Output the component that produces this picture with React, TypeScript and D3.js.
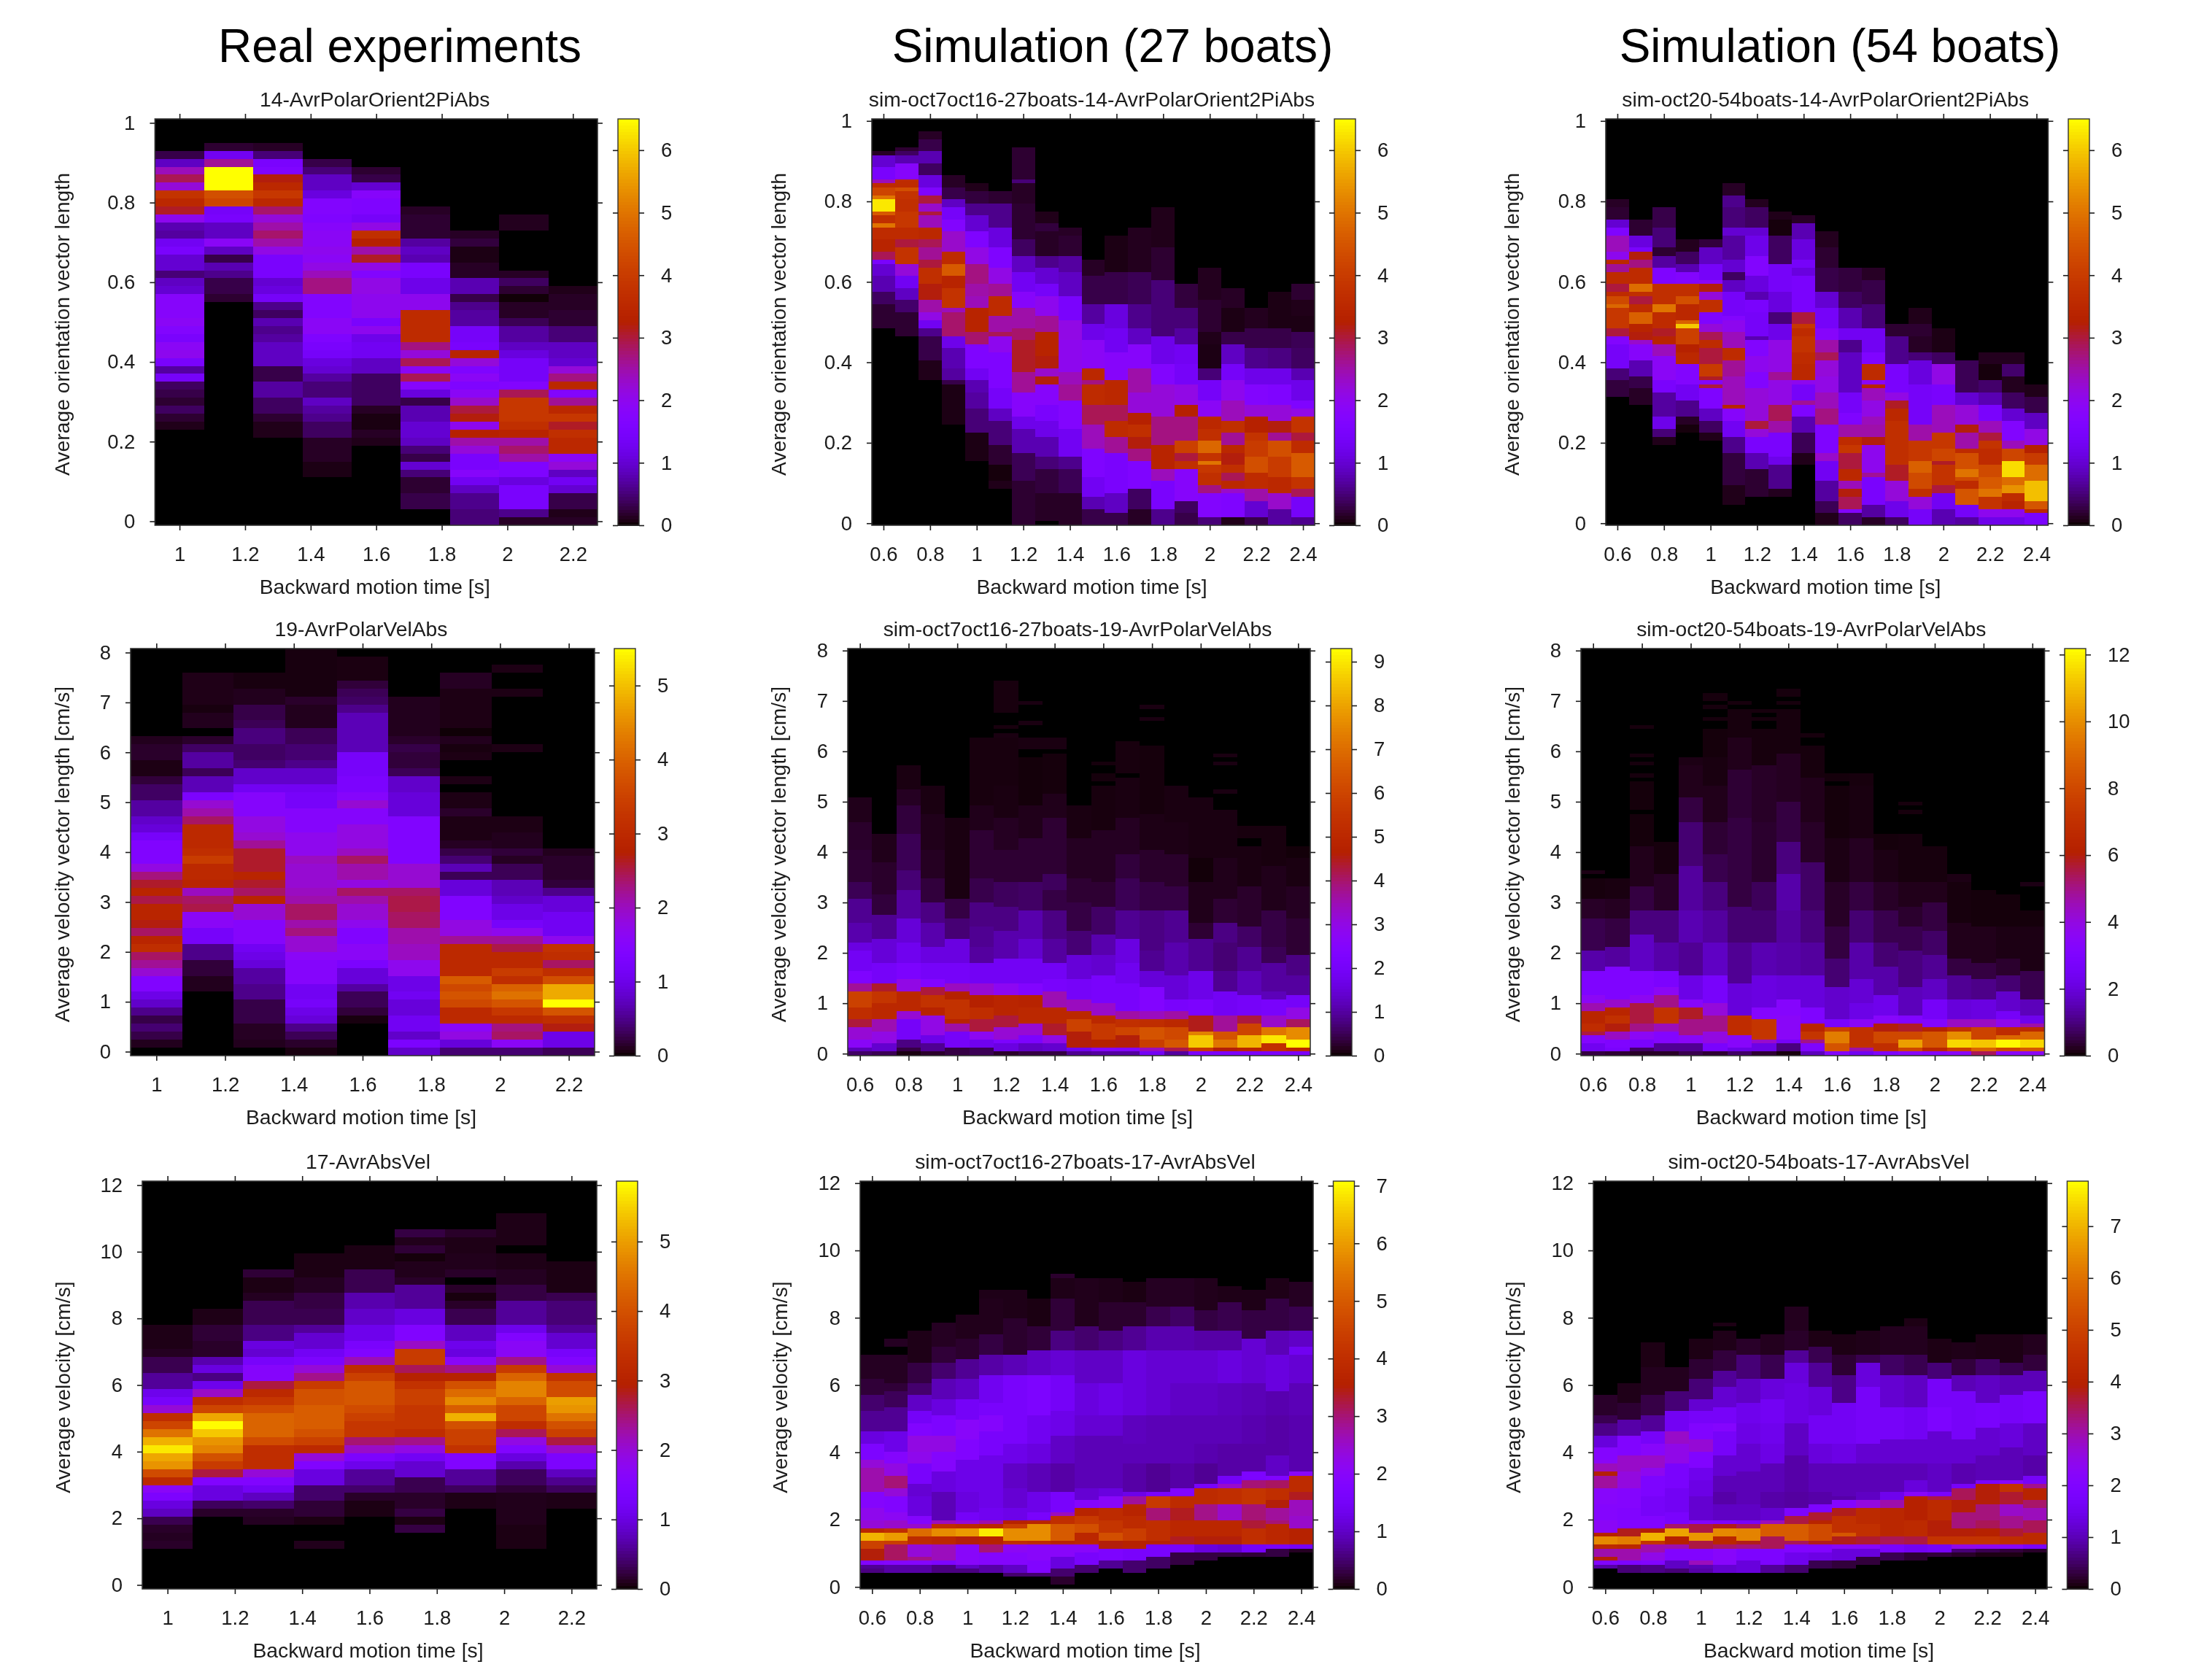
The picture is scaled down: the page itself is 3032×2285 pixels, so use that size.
import { useEffect, useRef } from 'react'
import * as d3 from 'd3'

// every column is a list of (first row, value) stops, row 0 is the top of the plot
const orientReal = [
  [4,.3,5,.9,6,2.4,7,2.9,8,2.2,9,3.8,10,3.5,11,3.1,12,2,13,.8,14,.7,15,1.3,16,1.5,17,1,19,.5,20,.9,21,1,22,1.8,25,1.9,26,1.7,27,1.5,28,1.9,29,2,30,1.5,31,.7,32,1.4,33,.4,34,.3,35,.2,36,.4,37,.2,38,.1,39,0],
  [3,.2,4,1.3,5,2.6,6,6.5,9,4.4,10,4.2,11,1.4,12,1.5,13,.9,15,1.9,16,.9,17,.3,18,.8,19,.6,20,.3,22,.2,23,0],
  [3,.15,4,.5,5,1.5,6,1.6,7,3.2,8,3.5,9,3.9,10,3.5,11,2.8,12,2.2,13,2.5,14,2.8,15,2.5,16,2.1,17,1.5,20,1,21,1.1,22,1.4,23,.6,24,.4,25,.8,26,.6,27,.7,28,.9,31,.3,33,.7,35,.4,37,.2,38,.1,40,0],
  [5,.3,6,.5,7,.9,9,1.1,10,1.7,12,1.6,13,1.8,14,1.9,16,2,17,1.9,18,2.1,19,2.4,20,2.7,22,1.7,25,1.9,27,1.6,28,1.5,29,1.4,30,1.1,31,1,32,.7,33,.5,35,.9,36,.7,37,.6,38,.4,40,.15,43,.08,45,0],
  [6,.2,7,.3,8,1,9,1.8,10,1.6,12,1.4,13,2.1,14,3.7,15,3.3,16,2.5,17,3.1,18,2.1,19,1.7,20,2.1,22,2,25,1.5,26,2,27,1.2,28,1.3,30,.9,32,.4,36,.15,37,.07,39,.15,40,.1,41,0],
  [11,.15,12,.2,15,.7,16,.9,17,.8,18,1.5,20,1.2,22,2,24,3.6,28,2.7,29,2.2,30,2.9,31,1.9,32,2.9,33,1.8,34,1.1,35,.3,36,.8,38,1,40,.9,41,.5,42,.3,43,1,44,.5,45,.2,47,.3,49,0],
  [14,.15,15,.25,16,.08,18,.15,20,.8,22,.3,23,.6,24,.7,26,1.4,28,1.5,29,3.4,30,2.2,31,1.6,32,1.9,33,1.6,34,1.9,35,2.3,36,3,37,3.2,38,2,39,3.3,40,2.5,41,2.2,42,1.5,44,1.8,45,1.3,46,.9,47,.6,49,.5],
  [12,.12,14,0,19,.15,20,.4,21,.2,22,.03,23,.15,25,.35,26,.7,28,.9,29,1.1,30,1.4,33,1.7,34,2.9,35,3.9,38,3.7,39,3.4,40,2.5,41,2.8,42,2.5,43,1.6,45,1.1,46,1.5,49,.6,50,.15],
  [21,.1,22,.15,24,.2,26,.5,28,.9,30,1,31,2.2,32,2.7,33,3.5,34,1.7,35,2.6,36,3.5,37,3.9,38,3.1,39,3.7,40,3.5,42,1.9,43,2.2,44,.9,45,1.3,46,1,47,.3,49,.1,50,.15],
]

const orientSim27 = [
  [8,.15,9,1,12,1.5,15,2.4,16,3.6,17,4.2,19,5,20,6.3,23,4.6,24,3.7,26,5,27,3.6,30,3.4,33,2.9,35,1.5,36,1,39,.8,43,.4,46,.2,52,0],
  [7,.2,8,.4,9,.8,11,1.8,15,3.6,17,4.4,18,3.8,20,3.7,23,3.9,27,3.6,30,3,32,3.8,36,2.2,39,1.3,42,.9,45,.45,48,.2,54,0],
  [3,.15,5,.3,8,.8,11,.4,14,1.1,17,1.6,19,3,21,2.3,23,3,24,2.4,27,3.5,30,2.9,32,2.6,35,3,37,3.7,41,3.2,45,2.5,48,2.1,50,1.3,52,.6,54,.3,60,.1,65,0],
  [14,.15,17,.3,20,.9,22,1.4,25,1.7,28,2.3,33,3.6,36,4.6,39,3.4,42,3.8,47,2.4,48,2.8,54,1.2,57,.8,62,.7,65,.3,66,.08,76,0],
  [16,.1,18,.25,21,.6,24,1,28,1.6,32,2.1,36,2.7,41,2.5,44,2.4,47,3.4,53,2.8,56,1.6,62,1.3,65,.8,68,.7,72,.5,78,.08,85,0],
  [18,.2,21,.6,27,1.1,32,1.6,37,2.1,41,2.6,44,3.6,49,2.5,53,2.9,54,2,58,1.6,67,1.4,72,.9,75,.5,81,.2,86,.05,90,.1,92,0],
  [7,.2,15,.5,16,.15,21,.2,30,.4,34,.9,38,1.3,43,1.8,47,2.5,52,2.8,55,3.1,63,2.6,68,1.8,74,1.2,77,.8,83,.35,90,.2],
  [23,.1,26,.25,28,.15,34,.6,37,1,41,1.4,44,2,49,2.6,53,3.4,59,3.2,62,2.3,64,3.2,66,1.8,71,1.5,75,1.2,79,.8,84,.5,87,.25,93,.15,100,0],
  [27,.15,29,.2,34,.7,38,.9,44,1.5,50,2.1,55,2,63,2.4,66,2.6,70,1.7,77,1.3,84,.6,87,.35,93,.15],
  [35,.15,39,.3,46,.7,51,1.2,55,1.9,62,3.5,65,2.7,66,3.6,71,2.9,76,2.4,82,1.6,89,1.3,94,.8,97,.3],
  [29,.08,38,.3,46,1.1,52,1.3,58,1.8,65,3.5,71,2.9,75,3.6,79,2.6,83,1.5,93,.9,98,.3],
  [27,.12,38,.35,46,.6,52,.9,56,1.8,62,2.5,68,2.2,73,3.3,76,3.7,79,3.2,82,2.7,85,1.6,92,.4,97,.15],
  [22,.1,32,.2,40,.5,54,1.2,61,1.7,66,2.2,74,2.7,81,3.4,87,2.4,90,1.5,97,.6],
  [41,.25,47,.5,52,.7,56,1.3,61,1.4,66,2.1,71,3.3,74,2.7,80,4.1,83,3,85,3.7,87,1.8,95,.4,98,.3],
  [37,.12,45,.2,53,.1,56,.08,62,.5,65,1.4,70,1.9,74,3.5,77,3.7,80,4.8,83,3.8,85,5,86,3.9,88,3.7,91,2.7,93,1.7,99,.5],
  [42,.15,47,.08,53,.3,56,.9,61,1.4,65,2,70,2.4,75,3.7,78,2.6,81,3.5,83,3.2,86,3.7,88,2.9,90,3.5,92,2.3,93,1.6,99,.1],
  [47,.12,52,.3,57,.6,62,1.2,66,1.7,71,2.2,74,3.3,78,3.8,80,4,84,4.4,88,3.6,92,2.5,95,1,99,.3],
  [43,.08,52,.3,57,.55,62,1.2,66,1.6,71,2.2,75,3.2,78,2.6,80,4.4,84,4,89,3.5,93,2.3,97,.7],
  [41,.2,45,.1,49,.08,53,.35,57,.4,62,.8,65,1.2,70,1.6,72,2.1,74,3.8,78,3,80,3.6,83,4.6,89,3.8,92,2.9,94,1.4,99,.6],
]

const orientSim54 = [
  [20,.15,22,.2,25,1,27,1.6,29,2.4,33,2,35,3.5,36,2.6,38,3.6,41,3,43,3.6,44,4.3,46,4.8,47,3.9,52,3,54,1.7,56,1.4,62,.5,65,.25,69,0],
  [25,.2,29,1.1,32,1.5,33,3.2,35,2.7,37,3.6,41,4.9,43,3.7,44,3,46,3.6,48,4.7,51,3.4,53,3.2,55,2.3,56,1.8,60,.8,64,.3,67,.15,71,0],
  [22,.3,27,.5,32,.2,34,.7,37,1.6,41,3.7,46,5,48,3.6,52,3.1,54,3.4,56,2.4,59,1.9,65,1.5,68,.7,74,1.2,77,.5,79,.1,81,0],
  [30,.12,33,.4,36,.8,38,1.7,41,3.7,44,4.4,46,3.5,50,4.7,51,6,52,4.1,56,3.3,58,3.5,61,1.7,66,1.3,70,.6,74,.15,76,.05,78,0],
  [30,.25,32,.9,36,1.4,40,1.9,41,3.2,43,2.2,45,3.7,48,1.6,51,2.2,53,2.9,55,3.6,57,3,61,4,64,3.1,65,1.7,66,3,67,1.6,72,.9,75,.4,78,.1,80,0],
  [16,.15,19,.6,22,.5,27,1,29,.7,35,1,38,.4,40,.9,43,1.4,49,1.7,50,2,53,2.4,57,3.6,60,2.6,64,2.4,71,3.4,72,1.8,75,1.3,79,.6,83,.25,91,.1,96,0],
  [20,.12,22,.4,27,1,29,1.2,34,1.7,39,1.1,43,.8,45,1.5,48,1.4,54,.8,55,1.7,59,2,63,1.7,67,2.2,75,3,77,2.2,79,1.5,83,.8,87,.2,94,0],
  [23,.1,25,.05,29,.4,36,1.4,43,1.1,48,.5,51,1.2,55,2.1,63,2.6,65,2.1,71,2.9,75,2.5,78,1.5,84,1.2,86,.6,92,.12,94,0],
  [24,.15,26,.8,30,1.1,35,1.4,37,1.1,39,1.5,48,3,51,3.9,52,3.6,54,3.8,58,3.6,61,3.5,65,2,66,1.4,70,2.6,71,1.6,74,.8,78,.35,83,.1,86,0],
  [28,.12,32,.2,37,.3,43,1,47,1.4,52,1.8,55,2.5,58,2.9,60,2.2,64,2.1,68,2.4,72,2.7,76,1.6,83,2.3,85,1.3,90,.7,95,.35,98,.1],
  [37,.25,43,.4,47,.8,52,1.3,55,.6,58,.9,68,1.4,73,1.6,76,2.5,79,3.6,81,3.9,83,3,87,3.5,90,2.4,92,3.2,94,2.9,97,1.7,98,.4],
  [37,.15,40,.3,46,.5,52,1.3,58,1.6,61,3.6,65,1.9,66,3.4,67,2.4,70,2.1,74,2.4,76,2.5,79,3.2,81,2,88,2.6,89,1.5,96,.7,99,.15],
  [51,.2,54,.6,61,1.5,68,2.1,70,3.1,72,3.5,75,3.7,86,3.1,90,2.2,95,1.2,99,.4],
  [47,.1,51,.2,54,.15,58,.5,60,1.1,66,1.4,76,2.5,80,3.9,85,4.7,88,4.3,92,3.7,94,2.2,97,1.4],
  [52,.08,58,.4,61,2.1,66,1.5,71,2.4,78,3.9,82,4.2,85,3.1,86,3.8,91,3,93,1.3,97,.8],
  [60,.35,68,1,71,2.2,76,3.2,78,2.5,82,3.6,83,4.4,87,5,89,4.3,90,3.6,92,4.5,96,1.4,99,.7],
  [58,.12,61,.05,65,.45,68,.8,71,1.5,75,2.4,78,3,80,3.8,82,3.6,86,4.3,89,4.6,92,5,94,3.8,97,2,99,1.2],
  [58,.12,61,.45,64,.12,68,.4,72,1,75,1.7,80,2.4,82,4.2,85,6.2,89,4.9,91,5.4,93,3.6,95,3.4,97,2,99,1.2],
  [66,.1,69,.3,73,.9,77,2.1,81,3.3,83,4,86,4.9,90,5.9,95,4.5,97,3.5,98,1.5],
]

const polarReal = [
  [11,.1,12,.15,14,.07,16,.2,17,.35,19,.6,21,.8,22,.9,23,1.2,24,1.4,27,1.8,28,2.3,29,2.6,30,2.9,31,2.5,32,2.9,34,2.7,35,2.4,36,2.9,37,3.1,38,2.4,39,2.2,40,1.9,41,1.4,43,1,44,.8,45,.5,46,.25,47,.4,48,.25,49,.1,50,0],
  [3,.08,7,.05,8,.1,10,0,11,.15,12,.35,13,.6,15,.3,16,.7,18,1.3,19,1.9,20,2.1,21,2.4,22,3,25,3.1,26,3.4,27,3,29,2.9,30,2,31,2.4,32,2.5,33,1.6,35,1.2,37,.5,39,.2,41,.1,43,0],
  [3,.05,5,.1,7,.25,9,.3,10,.45,12,.35,14,.4,15,.8,17,1.1,18,1.5,21,1.8,23,1.9,24,2.2,25,2.6,28,2.9,29,2.6,30,2.4,31,2.9,32,1.9,34,1.5,37,1.1,38,1,39,.9,40,.6,42,.5,44,.25,47,.12,49,.1,50,0],
  [0,.05,6,.15,7,.1,10,.3,12,.4,14,.5,15,.8,17,1.1,18,1.2,20,1.5,23,1.7,26,2,27,1.9,30,2,31,2.1,32,2.4,34,2.1,35,2.3,36,1.9,38,1.6,39,1.5,42,1.1,44,1.2,45,1,46,.9,47,.5,48,.3,49,.15,50,.05],
  [1,.06,4,.2,5,.3,6,.35,7,.5,8,.7,13,1.2,16,1.3,18,1.5,19,1.9,20,1.5,22,1.8,25,2,26,2.4,27,2.1,29,1.8,30,2.4,31,2.1,32,1.9,34,1.7,35,1.4,37,1.6,39,1.3,40,.9,42,.6,43,.3,45,.2,46,.05,47,0],
  [6,.1,11,.15,12,.25,13,.2,15,.3,16,.8,18,.9,21,1.4,27,1.9,30,2.4,31,2.5,33,2.4,35,2.1,37,2,39,1.7,41,1,43,1.1,44,.9,46,1.1,48,.8,49,1.3,50,.8],
  [3,.12,5,.07,10,.02,11,.1,12,.05,13,.07,14,0,16,.07,17,0,18,.07,20,.15,21,.07,24,.12,25,.25,26,.4,27,.7,28,.3,29,.9,31,1.4,34,1.8,36,2.2,37,3,41,3.9,42,3.6,43,3.8,44,3.6,45,3,47,1.6,48,1.8,49,.9,50,.4],
  [2,.07,3,0,5,.07,6,0,12,.07,13,0,21,.07,23,.1,25,.2,26,.12,27,.3,29,.7,31,.8,32,1,34,1.2,35,1.7,36,2.2,37,2.5,38,3,40,3.4,41,3.1,42,4,43,4.2,44,3.8,45,3.3,46,3,47,2.3,48,2.4,49,1.6,50,.4],
  [25,.1,26,.15,29,.2,30,.5,31,.9,33,1.1,36,1.7,37,3.2,38,3.1,39,2.4,40,3.1,41,3.7,42,4.8,44,5.5,45,3.8,46,3.1,47,2.7,48,1,50,.3],
]

const polarSim27 = [
  [37,.15,43,.25,50,.3,58,.5,62,.9,68,1.1,73,1.6,75,1.9,80,2.3,83,3.7,85,5.9,89,5.2,92,4.3,94,3.2,97,2.7,99,1.2,100,.6],
  [46,.15,53,.25,61,.35,66,.9,72,1.5,78,2,83,4.4,85,5.5,88,5,92,3.5,95,3,98,1.4,100,.5],
  [29,.1,35,.2,39,.35,46,.5,55,.7,60,1,67,1.5,73,1.8,78,2.2,82,3,85,5,90,3.2,92,2,97,.8,99,.4,100,.1],
  [34,.1,41,.15,50,.2,57,.35,63,.8,68,1.1,74,1.6,78,2,82,2.4,84,4.3,86,5.4,89,4.8,91,3,96,1.7,98,.9,100,.25],
  [42,.1,62,.4,67,.7,72,1.6,78,2,83,3.4,85,4.7,87,5.4,92,4.8,93,3.6,95,2,99,.4],
  [22,.08,39,.15,45,.3,57,.45,63,.8,69,.9,74,1,78,1.9,83,3.2,86,4.7,89,5.2,92,4.3,95,2.8,97,1.8,99,.5],
  [8,.08,16,0,19,.08,20,0,21,.1,22,.08,34,.1,42,.2,50,.3,58,.55,64,.8,70,1.1,77,1.9,83,2.8,86,4.9,91,4.3,94,3.2,97,2.2,98,1.6,100,.25],
  [13,.1,14,0,18,.1,19,0,22,.1,25,0,27,.06,39,.15,47,.3,58,.6,65,1.1,72,1.4,77,1.9,83,2.4,86,4.8,89,5,93,3.2,96,2.2,98,1.3,100,.4],
  [22,.1,25,0,26,.07,36,.15,42,.3,56,.55,60,.4,65,.8,72,1,78,1.9,82,2.1,85,3.5,89,5,93,4.4,96,3,98,1.4,100,.4],
  [39,.1,47,.2,57,.3,63,.4,70,.7,76,1.5,82,2,87,3.4,90,5,92,5.9,95,4.6,99,1.8,100,.9],
  [28,.07,29,0,31,.07,33,0,34,.08,45,.2,58,.3,64,.6,71,1.1,76,1.4,81,2.1,88,3.3,91,5,93,5.6,97,4.7,99,2.5,100,1],
  [23,.08,31,0,32,.1,42,.2,51,.35,57,.5,65,.9,72,1.6,78,1.8,83,2.1,90,3.6,92,5.3,94,6,96,4.6,99,2.4,100,1],
  [14,.1,15,0,17,.1,18,0,24,.07,41,.12,50,.25,58,.4,65,.8,75,.9,80,1.5,84,2.4,90,3.4,92,5.2,94,6.4,97,5.8,99,3.4,100,1.9],
  [34,.1,43,.12,51,.25,59,.4,65,.9,73,1.1,81,1.5,87,2.1,90,3.6,92,5,94,6.1,97,6.5,99,4.2,100,1],
  [37,.1,52,.05,58,.15,68,.3,72,.9,80,1.7,87,2.2,91,4.5,95,7.4,96,8.6,99,5.6,100,2.2],
  [26,.1,27,0,28,.1,29,0,35,.1,36,0,40,.1,52,.15,62,.3,68,.8,73,.7,80,.9,85,1.9,91,3.7,95,6.4,97,7.2,99,4.6,100,2.2],
  [44,.08,47,0,49,.1,59,.25,69,.6,74,.9,80,1.2,86,2,91,4.3,93,6,96,8.3,99,4.9,100,2.2],
  [44,.08,54,.15,65,.4,74,.5,78,1,85,1.2,87,2.1,91,3.3,94,7.2,96,9,98,5.3,100,2.2],
  [49,.05,52,.1,59,.2,67,.3,76,.8,81,1,86,2,89,3,92,4.1,94,7.6,97,9.3,99,5,100,2.2],
]

const polarSim54 = [
  [55,.15,56,0,57,.1,62,.3,67,.6,75,1.4,80,3,86,3.6,88,4.6,90,6.4,93,6.8,95,5.6,96,3.2,98,2.4,100,.5],
  [57,.12,62,.25,67,.5,74,1.3,79,3,87,4.3,89,6.4,91,7,93,6,95,4.4,97,3,99,2.8,100,.4],
  [19,.1,20,0,26,.1,27,0,28,.1,29,0,31,.1,32,0,33,.08,40,0,41,.08,49,.2,59,.5,65,1,71,1.7,80,3.1,86,3.7,88,5.6,93,5,95,3.6,97,2.8,99,.8,100,.3],
  [48,.1,56,.3,65,1,73,1.4,80,2.9,84,3.6,86,5,89,7.1,93,4.5,95,3.2,98,1.2,100,.3],
  [27,.15,29,.2,37,.5,43,.9,54,1.3,65,1.5,73,1.2,81,2.2,87,3.4,89,5.8,92,5,96,3.5,98,1.2,100,.6],
  [11,.1,13,0,14,.1,15,0,17,.1,18,0,20,.08,27,.12,34,.2,43,.4,51,.6,58,1,65,1.3,73,1.7,81,2.7,88,4.1,91,5,95,4,98,2.8,100,.4],
  [13,.1,14,0,15,.1,22,.2,30,.4,42,.5,64,.9,73,1.2,83,2,91,6.8,96,3.4,99,2.2,100,.8],
  [15,.1,16,0,17,.1,18,0,20,.1,29,.3,43,.35,58,.7,65,.9,73,1.5,81,2.1,89,3.3,92,7.2,97,4.3,98,2.2,100,.4],
  [10,.1,12,0,13,.1,14,0,15,.1,26,.25,38,.5,48,1,56,1.4,65,1.3,73,1.4,81,2,87,3.3,91,3.5,97,2.6,98,1,100,.1],
  [21,.1,22,0,24,.1,32,.2,43,.3,53,.8,65,1,73,1.3,81,2,89,3,93,6.4,95,7.2,97,5,98,3,100,1.6],
  [31,.08,33,0,34,.08,47,.15,58,.3,69,.5,77,.9,84,1.8,92,2.8,94,7.6,95,9.6,98,8.4,100,3.2],
  [31,.1,34,.12,47,.25,58,.5,65,.9,73,1.4,82,1.9,88,2.2,92,3.5,94,7,99,4.7,100,2.4],
  [46,.08,50,.15,58,.3,65,.6,73,.9,79,1.4,86,2.3,91,3.4,93,6,95,8,98,6.9,100,3],
  [38,.1,39,0,40,.1,41,0,46,.1,58,.2,64,.35,69,.6,75,1,84,1.6,91,3.1,93,5.8,95,8,97,10.4,99,7.9,100,3.4],
  [49,.1,58,.2,63,.5,70,.8,76,1.2,82,1.7,87,2.6,92,3.2,94,6.2,95,8.5,99,6.5,100,3.2],
  [56,.15,58,.1,68,.2,77,.5,81,1.2,87,2,92,4.4,94,7,95,10,97,11.5,99,7.6,100,3.5],
  [60,.08,69,.2,78,.5,82,1.1,87,2.1,92,4.4,94,7.8,97,11.2,99,8.9,100,5.4],
  [61,.08,69,.15,77,.35,81,.9,85,1.8,90,2.6,92,3.8,94,6.8,96,9,97,12.1,99,7.9,100,3.5],
  [58,.15,59,0,65,.08,69,.15,80,.6,87,1.6,91,2.3,93,4.7,94,6.6,95,9,97,11.5,99,8.5,100,3.6],
]

const absReal = [
  [18,.08,21,.12,22,.3,24,.6,26,1.1,27,1.3,28,2,29,3.3,30,3.8,31,4.5,32,5.2,33,5.7,34,5.1,35,4.9,36,3.9,37,3.2,38,1.7,39,1.4,40,1,41,.8,42,.3,43,.15,44,.12,45,.15,46,0],
  [16,.08,18,.2,20,.15,22,.7,23,1,24,.5,25,1.1,26,2.1,27,3.3,28,3.8,29,5.1,30,5.85,31,5.4,32,4.9,33,4.7,34,4,35,3.6,36,2.7,37,1.5,38,1,40,.35,41,.15,42,0],
  [11,.2,12,.07,14,.12,15,.3,18,.5,20,1,21,.9,22,1.3,23,1.6,25,2.7,26,3.2,27,3.5,28,3.9,29,4.3,32,3.9,33,3.3,36,2,37,1.5,38,1.2,39,.8,40,.4,41,.15,42,.12,43,0],
  [9,.07,12,.12,14,.25,16,.3,18,.6,19,.9,21,1.2,22,1.4,23,2,24,2.4,25,3.6,26,4,28,4.2,31,4,32,3.7,33,3.2,34,2,35,1.5,36,1,38,.4,40,.2,42,.07,43,0,45,.1,46,0],
  [8,.07,11,.3,14,.7,16,.85,18,1.1,20,1.35,21,1.5,22,2.2,23,3.3,24,3.7,25,4.1,28,3.9,29,3.7,30,3.5,32,2.5,33,2.1,34,1.4,35,1.1,36,.6,38,.4,39,.15,40,.07,42,0],
  [6,.25,7,.1,8,.2,9,.04,10,.1,12,.15,13,.6,16,1,18,1.5,20,2.1,21,3.6,23,2.6,24,3,25,3.4,26,3.7,28,3.5,31,3.3,32,2.4,33,1.9,34,1.2,35,.9,37,.3,39,.15,41,.25,42,.07,43,.25,44,0],
  [6,.15,7,.08,9,.1,11,.15,12,0,13,.15,14,.05,15,.15,16,.3,18,.8,20,1.1,21,1,22,1.7,23,2.4,24,3,25,4,26,4.4,27,4.8,28,4.2,29,5.2,30,4,31,3.7,33,3.4,34,1.5,36,.6,38,.35,39,.08,41,0],
  [4,.08,8,0,9,.08,11,.12,13,.25,15,.6,18,1.1,19,1.5,20,1.7,22,2.4,23,3.6,24,4.3,25,4.7,27,4.3,28,3.8,30,3.3,31,2.6,32,1.9,33,1.5,34,1,35,.7,36,.35,38,.2,39,.1,43,.07,46,0],
  [10,.07,14,.3,15,.45,18,.6,19,.9,21,1.3,22,1.5,23,2,24,3.4,25,3.9,27,5,28,4.9,29,4.5,30,4,31,3.7,32,2.7,33,2.1,34,1.4,36,.8,37,.55,38,.35,39,.08,41,0],
]

const absSim27 = [
  [43,.15,49,.25,53,.5,57,.7,62,1.2,65,1.7,69,2.4,71,2.7,77,1.9,81,2.2,84,2.4,86,3.8,87,6.3,89,4.5,91,3.5,94,1.8,95,.7,96,.6,97,0],
  [39,.15,41,0,43,.15,50,.25,52,.4,56,.7,62,1.3,67,1.9,70,2.3,73,3,76,2.4,78,1.8,82,2.1,84,2.5,86,4,87,6,89,4.4,90,3.1,94,1.9,95,.8,97,0],
  [37,.1,45,.3,50,.5,53,1,57,1.5,60,1.8,63,2.3,67,2.2,70,1.6,75,1.1,78,1.2,83,1.9,85,2.5,86,5.3,88,3.9,90,2.4,93,2.9,94,1.9,95,.8,97,0],
  [35,.15,41,.25,45,.5,49,.9,54,1.2,58,1.7,63,2.3,67,1.9,72,1.2,77,.9,84,2.6,85,4,86,5.8,88,3.8,90,2.6,94,1.7,95,.6,97,0],
  [33,.12,39,.2,44,.7,49,1,54,1.5,59,2,64,1.8,69,1.3,77,1.2,82,1.5,84,2.4,85,3.9,86,6,88,3.5,90,2,95,1,96,.6,97,0],
  [27,.1,29,.12,38,.3,43,.8,48,1.4,55,1.6,58,1.9,62,1.6,68,1.3,81,1.4,84,2.7,85,3.8,86,6.9,88,3.6,90,3,92,1.9,95,.8,97,0],
  [27,.1,34,.2,43,.9,48,1.6,65,1.3,70,1,76,1.1,81,1.3,84,3.6,85,4.4,86,5.8,89,4,90,2.1,92,1.9,95,1,97,.5,98,0],
  [29,.08,36,.25,42,1,48,1.7,58,1.4,65,1.2,70,.9,77,1.3,82,1.6,84,3.7,85,5.8,89,3.9,90,2,94,1.8,97,.5,98,0],
  [23,.2,24,.1,29,.25,37,.6,42,1.1,48,1.5,57,1.3,63,1,70,.8,77,1.6,82,2.6,83,4,85,5,89,3.7,90,2,93,1.2,96,.5,98,.2,100,0],
  [24,.12,36,.5,42,1,50,1.2,58,1.1,63,.9,76,1.1,79,1.9,81,3.7,83,4.3,85,4.8,87,3.8,90,2,92,1.6,95,.5,97,0],
  [24,.1,30,.2,37,.6,42,1,50,1.3,58,1.1,63,.9,76,1.2,78,2,81,3.9,84,4.2,87,4.8,89,3.5,91,1.7,94,.7,96,0],
  [25,.08,30,.2,36,.7,42,1.2,58,.95,65,.9,70,.8,77,1.3,78,2.8,80,3.7,83,3.9,86,4.4,89,3.6,91,1.6,94,.5,97,0],
  [24,.15,31,.35,36,.85,42,1.1,58,.9,70,.7,77,1.6,78,4.3,81,3,84,4,89,3.6,90,1.6,93,.45,96,0],
  [24,.15,31,.45,36,.85,42,1.1,50,1,58,.9,70,.8,76,1.8,78,3.9,81,3.4,84,3.8,88,3.4,90,1.6,92,.3,95,0],
  [24,.12,32,.3,37,.8,42,1.1,50,1,58,.9,65,.85,70,.7,75,1.6,76,3.9,80,2.9,84,3.8,88,3.5,90,1.2,92,.3,94,0],
  [26,.1,30,.35,37,.8,42,1.2,50,.95,58,.9,65,.8,73,1.5,75,2.5,76,4,80,2.5,84,3.8,88,3.5,90,1.1,92,.3,93,0],
  [27,.1,32,.3,39,1.1,50,.9,58,.85,65,.8,72,1.7,74,3,76,4.2,80,3,84,3.3,86,4,90,1.5,92,.25,93,0],
  [24,.1,29,.3,37,.9,43,1.2,52,.85,58,.8,68,1,73,1.8,74,3.1,76,4,79,3.5,81,2.8,84,3,85,3.8,90,1.6,91,.3,93,0],
  [25,.15,31,.35,37,1,41,1.4,43,1.1,50,.9,58,.85,72,2,73,3.9,77,3.4,79,2.6,83,2.5,86,3.6,90,1.5,91,.15,92,0],
]

const absSim54 = [
  [53,.2,58,.4,60,.7,63,1.3,66,2.1,69,2.3,70,2.9,72,3.9,73,3.1,76,2.2,80,2.1,84,2.3,87,4,88,6.4,90,4.3,91,3,93,3.9,94,2,95,.9,96,0],
  [50,.12,55,.25,59,.9,63,2,68,2.8,72,2.6,76,2.1,81,2,86,3.8,88,6.2,90,4.2,91,3,94,1.9,95,.6,97,0],
  [40,.1,46,.15,53,.35,58,.8,62,1.7,65,2.2,68,2.8,71,2.4,73,1.9,78,1.7,83,2,86,3.9,87,7,89,4.6,90,3,92,2.5,94,2,95,.7,97,0],
  [46,.15,52,.6,57,1.6,62,2.8,65,2.5,70,1.8,76,1.6,82,1.8,85,3.4,86,6.8,88,4,90,3,91,2,94,1.1,96,.6,97,0],
  [39,.1,44,.25,49,.6,54,1.2,57,1.7,60,2,64,2.7,67,2,71,1.5,74,1.4,78,1.2,84,2,85,3.6,87,6.6,89,3.6,91,2,94,2.9,95,1,96,.9,97,0],
  [35,.1,36,0,37,.12,42,.3,47,.8,51,1.2,56,1.7,60,2.1,62,1.7,68,1.2,73,1,77,.9,80,1.1,84,1.9,85,3.8,86,6.4,88,4.2,90,3.4,91,2.2,95,1.2,97,0],
  [39,.2,43,.6,49,1.1,55,1.5,60,1.4,65,1.2,72,1,80,1.1,84,1.7,85,3.5,86,6.3,89,3.8,90,3.3,91,1.9,94,1.3,97,0],
  [38,.15,43,.4,49,1.3,54,1.6,60,1.5,65,1.4,70,1,77,.9,81,1.2,84,2.9,85,5.6,88,3.5,91,1.9,95,.8,97,0],
  [31,.15,37,.2,42,.8,45,1.3,50,1.4,60,1.1,68,.9,77,.85,81,1.9,83,3.6,85,5.6,89,3.5,90,2,92,1.5,95,.55,97,0],
  [37,.1,41,.4,45,.8,51,1.3,58,1.6,65,1.3,70,1,77,.9,80,1.9,82,3.7,84,4.1,85,5.2,89,3.8,90,2,92,1.4,94,.4,96,0],
  [38,.1,43,.25,48,.7,55,1.6,65,1.4,70,1,78,.9,79,2.1,81,3.8,83,4.5,87,5.5,88,3.8,90,2.2,91,1.3,94,.3,96,0],
  [37,.12,43,.4,45,1.3,51,1.7,65,1.2,70,1,77,1.1,79,2.6,81,4.3,85,4.5,88,3.7,90,2.2,91,1.3,93,.3,95,0],
  [36,.15,43,.5,48,1.2,56,1.7,64,1.2,70,1,77,1.5,79,3,81,4.2,88,3.5,90,1.8,92,.4,94,0],
  [34,.1,36,.15,43,.4,48,1.1,56,1.6,64,1.2,70,1,74,1.3,77,2.2,78,4,84,4.3,88,3.6,90,1.6,92,.25,94,0],
  [39,.1,45,.6,49,1.7,56,1.9,62,1.2,70,1.1,77,1.8,78,3.6,79,4.3,84,3.9,88,4.6,90,1.7,92,.3,93,0],
  [40,.12,44,.3,48,1,52,1.7,64,1.2,70,.95,75,1.7,76,3.5,79,3.9,82,3.3,86,3.9,88,4.6,90,2.5,91,.6,92,.2,93,0],
  [38,.1,44,.5,48,1.1,55,1.8,61,1.2,68,1,74,1.8,75,3.9,80,3.3,84,3.5,86,4,88,4.6,90,2.4,91,.4,92,.1,93,0],
  [38,.1,45,.4,48,1,53,1.7,60,1.3,66,1,74,2.2,75,4.6,77,3.7,80,2.8,83,3.2,86,3.7,88,4.4,90,2.2,91,.3,92,.1,93,0],
  [38,.15,43,.3,47,1,52,1.8,60,1.1,68,.9,73,1.7,75,3.2,76,4.1,79,3.4,81,2.9,84,3.5,87,4.3,90,1.8,91,.2,92,0],
]

const colTitles = ['Real experiments', 'Simulation (27 boats)', 'Simulation (54 boats)']
const colTitleX = [548, 1525, 2522]
const panelTitles = [
  '14-AvrPolarOrient2PiAbs', 'sim-oct7oct16-27boats-14-AvrPolarOrient2PiAbs', 'sim-oct20-54boats-14-AvrPolarOrient2PiAbs',
  '19-AvrPolarVelAbs', 'sim-oct7oct16-27boats-19-AvrPolarVelAbs', 'sim-oct20-54boats-19-AvrPolarVelAbs',
  '17-AvrAbsVel', 'sim-oct7oct16-27boats-17-AvrAbsVel', 'sim-oct20-54boats-17-AvrAbsVel',
]
const yLabels = ['Average orientation vector length', 'Average velocity vector length [cm/s]', 'Average velocity [cm/s]']
const xLabel = 'Backward motion time [s]'
const yTicks = [[0, .2, .4, .6, .8, 1], [0, 1, 2, 3, 4, 5, 6, 7, 8], [0, 2, 4, 6, 8, 10, 12]]
const realTicks = [1, 1.2, 1.4, 1.6, 1.8, 2, 2.2]
const simTicks = [.6, .8, 1, 1.2, 1.4, 1.6, 1.8, 2, 2.2, 2.4]
const colorMax = [6.5, 6.5, 6.5, 5.5, 9.3, 12.18, 5.87, 7.08, 7.87]
const colorStep = [1, 1, 1, 1, 1, 2, 1, 1, 1]

const rowTop = [163, 889, 1619]
const rowBottom = [720, 1447, 2178]
const plotLeft = [212.4, 1195, 2201, 179, 1162, 2167, 195, 1179, 2184]
const plotRight = [819, 1802, 2807.4, 815, 1796, 2802.5, 818, 1800, 2806]
const barLeft = [847, 1829, 2835, 842, 1824, 2830, 845, 1827.5, 2833.4]
const labelOffset = [125, 125, 126, 91, 92, 91.5, 106, 107, 107]
const grids = [orientReal, orientSim27, orientSim54, polarReal, polarSim27, polarSim54, absReal, absSim27, absSim54]
// half a bin past the last tick on each side
const yPad = [.01, .005, .005, .08, .04, .04, .12, .06, .06]
const yMax = [1, 8, 12]

const FONT = '"Liberation Sans", Arial, sans-serif'
const INK = '#1c1c1c'

// gnuplot's default pm3d palette, rgbformulae 7,5,15
const palette = (t: number) => {
  const r = Math.sqrt(t)
  const g = t * t * t
  const b = Math.max(0, Math.sin(2 * Math.PI * t))
  return d3.rgb(r * 255, g * 255, b * 255).formatHex()
}

const expand = (stops: number[], n: number) => {
  const out = new Array(n).fill(0)
  for (let i = 0; i < stops.length; i += 2) {
    const end = i + 2 < stops.length ? stops[i + 2] : n
    for (let r = stops[i]; r < end && r < n; r++) out[r] = stops[i + 1]
  }
  return out
}

const styleAxis = (g: any) => {
  g.select('.domain').remove()
  g.selectAll('line').attr('stroke', INK).attr('stroke-width', 1.6)
  g.selectAll('text').attr('fill', INK).style('font-size', '27.5px').style('font-family', FONT)
}

export default function App() {
  const ref = useRef<SVGSVGElement>(null)

  useEffect(() => {
    const svg = d3.select(ref.current)
    svg.selectAll('*').remove()

    svg.append('g').selectAll('text')
      .data(colTitles)
      .join('text')
      .attr('x', (_, i) => colTitleX[i])
      .attr('y', 85)
      .attr('text-anchor', 'middle')
      .attr('fill', '#000')
      .style('font-family', FONT)
      .style('font-size', '64px')
      .text(d => d)

    grids.forEach((columns, p) => {
      const row = Math.floor(p / 3)
      const real = p % 3 === 0
      const top = rowTop[row]
      const bottom = rowBottom[row]
      const left = plotLeft[p]
      const right = plotRight[p]
      const binW = real ? .15 : .1
      const xStart = real ? .925 : .55
      const nRows = real ? 51 : 101
      const yHigh = yMax[row] + yPad[p]
      const binH = yPad[p] * 2

      const x = d3.scaleLinear().domain([xStart, xStart + binW * columns.length]).range([left, right])
      const y = d3.scaleLinear().domain([-yPad[p], yHigh]).range([bottom, top])
      const c = d3.scaleLinear().domain([0, colorMax[p]]).range([0, 1]).clamp(true)
      const barY = d3.scaleLinear().domain([0, colorMax[p]]).range([bottom, top])

      const panel = svg.append('g')

      panel.append('rect')
        .attr('x', left).attr('y', top)
        .attr('width', right - left).attr('height', bottom - top)
        .attr('fill', '#000')

      const cells = columns.flatMap((stops, col) =>
        expand(stops, nRows).map((value, r) => ({ col, r, value })).filter(d => d.value > 0))

      panel.append('g')
        .attr('shape-rendering', 'crispEdges')
        .selectAll('rect')
        .data(cells)
        .join('rect')
        .attr('x', d => x(xStart + d.col * binW))
        .attr('width', d => x(xStart + (d.col + 1) * binW) - x(xStart + d.col * binW))
        .attr('y', d => y(yHigh - d.r * binH))
        .attr('height', d => y(yHigh - (d.r + 1) * binH) - y(yHigh - d.r * binH))
        .attr('fill', d => palette(c(d.value)))

      panel.append('rect')
        .attr('x', left).attr('y', top)
        .attr('width', right - left).attr('height', bottom - top)
        .attr('fill', 'none').attr('stroke', '#333').attr('stroke-width', 1.6)

      const xTicks = real ? realTicks : simTicks
      const fmt = d3.format('~g')

      panel.append('g')
        .attr('transform', `translate(0,${bottom})`)
        .call(d3.axisBottom(x).tickValues(xTicks).tickFormat(fmt as any).tickSize(7).tickPadding(22))
        .call(styleAxis)
      panel.append('g')
        .attr('transform', `translate(0,${top})`)
        .call(d3.axisTop(x).tickValues(xTicks).tickFormat(() => '').tickSize(7))
        .call(styleAxis)
      panel.append('g')
        .attr('transform', `translate(${left},0)`)
        .call(d3.axisLeft(y).tickValues(yTicks[row]).tickFormat(fmt as any).tickSize(7).tickPadding(20))
        .call(styleAxis)
      panel.append('g')
        .attr('transform', `translate(${right},0)`)
        .call(d3.axisRight(y).tickValues(yTicks[row]).tickFormat(() => '').tickSize(7))
        .call(styleAxis)

      // colour bar
      const barW = 29
      const bx = barLeft[p]
      const levels = d3.range(0, 128)
      const level = d3.scaleLinear().domain([0, 128]).range([bottom, top])
      panel.append('g')
        .attr('shape-rendering', 'crispEdges')
        .selectAll('rect')
        .data(levels)
        .join('rect')
        .attr('x', bx)
        .attr('width', barW)
        .attr('y', d => level(d + 1))
        .attr('height', d => level(d) - level(d + 1) + .5)
        .attr('fill', d => palette((d + .5) / 128))
      panel.append('rect')
        .attr('x', bx).attr('y', top)
        .attr('width', barW).attr('height', bottom - top)
        .attr('fill', 'none').attr('stroke', '#333').attr('stroke-width', 1.4)

      const barTicks = d3.range(0, colorMax[p], colorStep[p])
      panel.append('g')
        .attr('transform', `translate(${bx + barW},0)`)
        .call(d3.axisRight(barY).tickValues(barTicks).tickFormat(fmt as any).tickSize(7).tickPadding(23))
        .call(styleAxis)
      panel.append('g')
        .attr('transform', `translate(${bx},0)`)
        .call(d3.axisLeft(barY).tickValues(barTicks).tickFormat(() => '').tickSize(7))
        .call(styleAxis)

      // labels
      const mid = (left + right) / 2 - 2
      const text = (s: string, tx: number, ty: number, rotate = false) =>
        panel.append('text')
          .attr('transform', `translate(${tx},${ty})${rotate ? ' rotate(-90)' : ''}`)
          .attr('text-anchor', 'middle')
          .attr('dominant-baseline', 'middle')
          .attr('fill', INK)
          .style('font-family', FONT)
          .style('font-size', '28.3px')
          .text(s)

      text(panelTitles[p], mid, top - 24)
      text(xLabel, mid, bottom + 87)
      text(yLabels[row], left - labelOffset[p], (top + bottom) / 2 + 3, true)
    })
  }, [])

  return (
    <svg
      ref={ref}
      width={3032}
      height={2285}
      style={{ position: 'absolute', left: 0, top: 0, background: '#fff', filter: 'blur(0.7px)' }}
    />
  )
}
